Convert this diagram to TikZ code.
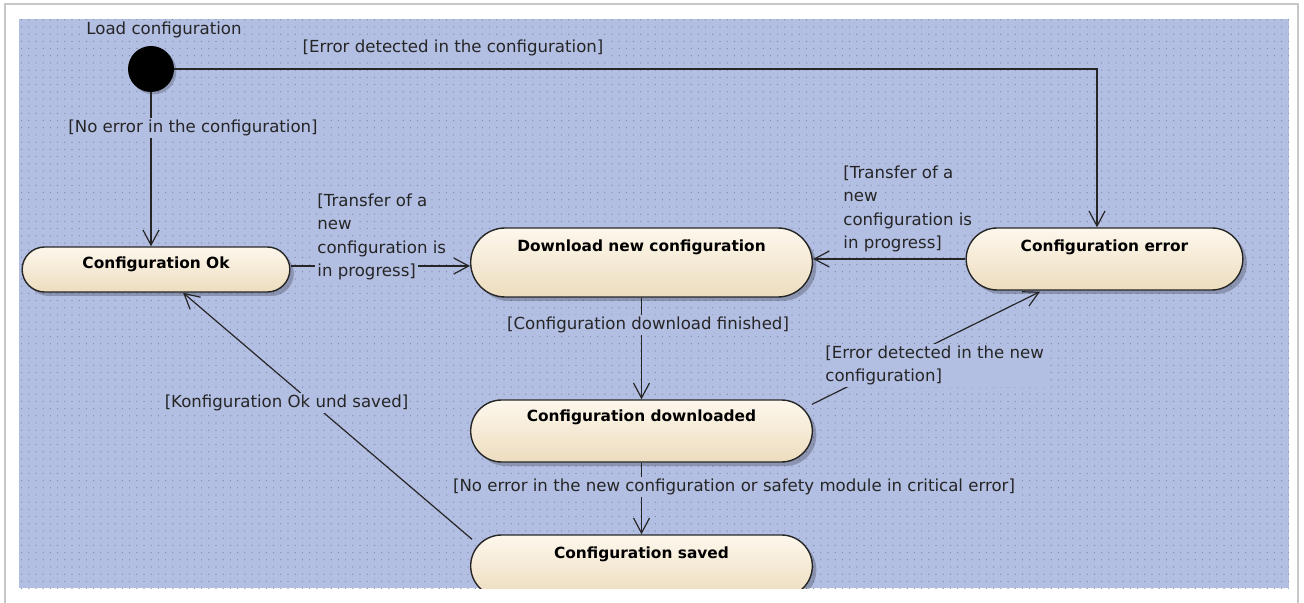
\documentclass[tikz,border=0pt]{standalone}
\usepackage{fontspec}
\setmainfont{DejaVu Sans}
\usetikzlibrary{shapes.misc, arrows.meta, positioning, calc, shadows, patterns.meta}
\definecolor{canvasblue}{RGB}{178,190,226}
\definecolor{dotgrey}{RGB}{125,135,168}
\definecolor{statetop}{RGB}{253,247,236}
\definecolor{statebottom}{RGB}{237,221,191}
\setlength{\fboxsep}{1pt}
\newcommand{\gline}[1]{\colorbox{canvasblue}{#1}}

\tikzset{
  statebox/.style={rounded rectangle, draw=black!85, line width=0.7pt,
    top color=statetop, bottom color=statebottom,
    drop shadow={shadow xshift=2pt, shadow yshift=-2pt, fill=black, opacity=0.22},
    font=\fontsize{7.7}{9}\selectfont\bfseries, inner ysep=0pt,
    minimum width=177.5pt, text height=11.5pt, text depth=19.5pt},
  guard/.style={fill=canvasblue, inner sep=1pt, align=left, text=black!85,
    font=\fontsize{8.3}{11.8}\selectfont},
  guardlines/.style={guard, fill=none, inner sep=0pt},
  transition/.style={draw=black!85, line width=0.6pt,
    -{Straight Barb[length=7.5pt, width=8pt]}},
}

\begin{document}
\begin{tikzpicture}[x=0.5pt, y=-0.5pt]
  \useasboundingbox (0,0) rectangle (1304,603);
  \draw[black!22, line width=1.2pt] (5,603) -- (5,4) -- (1298,4) -- (1298,603);
  \begin{scope}
    \clip (19,19) rectangle (1289,588);
    \fill[canvasblue] (19,19) rectangle (1289,588);
    \fill[pattern={Dots[distance=3.6pt, radius=0.32pt]}, pattern color=dotgrey]
      (19,19) rectangle (1289,588);

    % states
    \node[circle, fill=black, minimum size=23pt, inner sep=0pt,
      drop shadow={shadow xshift=1.2pt, shadow yshift=-1.2pt, fill=black, opacity=0.2}]
      (init) at (151,69) {};
    \node[statebox, minimum width=140.5pt, text height=11pt, text depth=11.5pt]
      (ok) at (156,269.5) {Configuration Ok};
    \node[statebox, text height=12pt, text depth=22.5pt]
      (dl) at (641.5,262.5) {Download new configuration};
    \node[statebox, minimum width=145pt, text height=12pt, text depth=19pt]
      (err) at (1104.5,259) {Configuration error};
    \node[statebox, text height=11pt, text depth=20pt]
      (dld) at (641.5,431) {Configuration downloaded};
    \node[statebox] (sv) at (641.5,566) {Configuration saved};

    % transitions
    \draw[transition] (init.south) -- (init.south |- ok.north);
    \draw[transition] (init.east) -| ($(err.north)+(-7.5,0)$);
    \coordinate (okout) at ($(ok.east)+(0,-3.5)$);
    \draw[transition] (okout) -- (okout -| dl.west);
    \draw[transition] (err.west) -- (err.west -| dl.east);
    \draw[transition] (dl.south) -- (dld.north);
    \draw[transition] ($(dld.north)+(170.5,5)$) -- ($(err.south)+(-64.5,1)$);
    \draw[transition] (dld.south) -- (sv.north);
    \draw[transition] ($(sv.north)+(-169.5,5)$) -- ($(ok.south)+(27,0)$);

    % guards
    \node[guard, anchor=west] (loadlbl) at (84,30) {Load configuration};
    \node[guard] (errlbl) at (453,48) {[Error detected in the configuration]};
    \node[guard, anchor=west] (noerrlbl) at (66,128) {[No error in the configuration]};
    \node[guardlines, anchor=west] (xferlbl) at (315,237)
      {\gline{[Transfer of a}\\\gline{new}\\\gline{configuration is}\\\gline{in progress]}};
    \node[guardlines, anchor=west] (xferbacklbl) at (841,209)
      {\gline{[Transfer of a}\\\gline{new}\\\gline{configuration is}\\\gline{in progress]}};
    \node[guard] (donelbl) at (648,325) {[Configuration download finished]};
    \node[guard, anchor=west] (errnewlbl) at (823,365.5)
      {[Error detected in the new\\configuration]};
    \node[guard] (oklbl) at (734,487)
      {[No error in the new configuration or safety module in critical error]};
    \node[guard] (savedlbl) at (286.5,403) {[Konfiguration Ok und saved]};
  \end{scope}
\end{tikzpicture}
\end{document}
